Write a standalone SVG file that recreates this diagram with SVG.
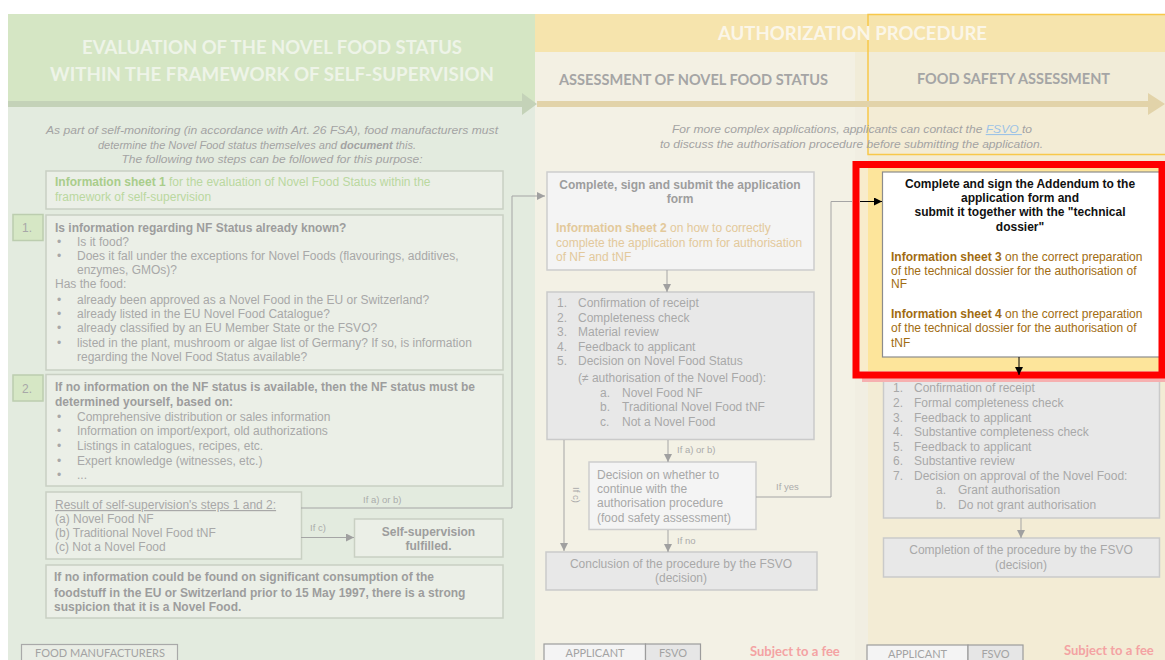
<svg xmlns="http://www.w3.org/2000/svg" width="1165" height="660" viewBox="0 0 1165 660">
<style>
.t{font-family:"Liberation Sans",Arial,sans-serif;font-size:12px;fill:#a8a8a8}
.b{font-weight:bold}
.bd{font-weight:bold;fill:#9d9d9d}
.hd{font-family:Lato,"Open Sans",sans-serif;font-weight:bold}
.it{font-family:"Liberation Sans",Arial,sans-serif;font-style:italic;font-size:11px;fill:#a3a3a3}
.sm{font-family:"Liberation Sans",Arial,sans-serif;font-size:9.5px;fill:#ababab}
.lbox{fill:#ebefe7;stroke:#c9d0c3;stroke-width:1.5}
.nbox{fill:#d6e7c5;stroke:#bccdaf;stroke-width:1.5}
.mbox{fill:#f4f4f4;stroke:#cdcdcd;stroke-width:1.5}
.gbox{fill:#e8e8e8;stroke:#cacaca;stroke-width:1.5}
.ln{stroke:#a5a5a5;stroke-width:1;fill:none}
.g1{fill:#a9cd8b}
.g2{fill:#bad89f}
.o1{fill:#e3c99b}
.br{fill:#a16c12}
.tag{font-family:Lato,"Open Sans",sans-serif;font-size:11px;fill:#a3a3a3}
.fee{font-family:Lato,"Open Sans",sans-serif;font-size:13px;font-weight:bold;fill:#f4a3a3}
</style>
<defs>
<marker id="ag" viewBox="0 0 8 8" refX="8" refY="4" markerWidth="8" markerHeight="8" markerUnits="userSpaceOnUse" orient="auto"><path d="M0,0 L8,4 L0,8 z" fill="#a0a0a0"/></marker>
<marker id="ak" viewBox="0 0 8 8" refX="8" refY="4" markerWidth="8" markerHeight="8" markerUnits="userSpaceOnUse" orient="auto"><path d="M0,0 L8,4 L0,8 z" fill="#000"/></marker>
</defs>

<g id="background">
<rect x="8" y="14" width="527" height="90" fill="#d5e6c4"/>
<rect x="8" y="104" width="527" height="556" fill="#e3ebdf"/>
<rect x="535" y="14" width="630" height="38" fill="#f6e4ad"/>
<rect x="535" y="52" width="320" height="52" fill="#f3f0e3"/>
<rect x="855" y="52" width="310" height="52" fill="#f1ecd8"/>
<rect x="535" y="104" width="320" height="556" fill="#f3f1e5"/>
<rect x="855" y="104" width="13" height="556" fill="#f1eee2"/>
<rect x="868" y="104" width="297" height="556" fill="#f3ecd5"/>
<rect x="868" y="14.5" width="300" height="140" fill="none" stroke="#f8c84a" stroke-width="1.5"/>
<rect x="8" y="101" width="516" height="6" fill="#c4d2b8"/>
<polygon points="522,93 537,104 522,115" fill="#c4d2b8"/>
<rect x="537" y="101" width="613" height="6" fill="#e2d3a9"/>
<polygon points="1148,93 1165,104 1148,115" fill="#e2d3a9"/>
</g>

<g id="headers">
<text class="hd" x="272" y="54" font-size="19" fill="#eef4e8" text-anchor="middle" textLength="380" lengthAdjust="spacingAndGlyphs">EVALUATION OF THE NOVEL FOOD STATUS</text>
<text class="hd" x="272" y="81" font-size="19" fill="#eef4e8" text-anchor="middle" textLength="444" lengthAdjust="spacingAndGlyphs">WITHIN THE FRAMEWORK OF SELF-SUPERVISION</text>
<text class="hd" x="852.5" y="40" font-size="18" fill="#fbf6e8" text-anchor="middle" textLength="269" lengthAdjust="spacingAndGlyphs">AUTHORIZATION PROCEDURE</text>
<text class="hd" x="693.5" y="85" font-size="15" fill="#a5a5a5" text-anchor="middle" textLength="269" lengthAdjust="spacingAndGlyphs">ASSESSMENT OF NOVEL FOOD STATUS</text>
<text class="hd" x="1013.5" y="84" font-size="15" fill="#a5a5a5" text-anchor="middle" textLength="193" lengthAdjust="spacingAndGlyphs">FOOD SAFETY ASSESSMENT</text>
<text class="it" x="272" y="134" text-anchor="middle" textLength="452" lengthAdjust="spacingAndGlyphs">As part of self-monitoring (in accordance with Art. 26 FSA), food manufacturers must</text>
<text class="it" x="257" y="149" text-anchor="middle" textLength="318" lengthAdjust="spacingAndGlyphs">determine the Novel Food status themselves and <tspan font-weight="bold">document</tspan> this.</text>
<text class="it" x="272" y="163" text-anchor="middle" textLength="301" lengthAdjust="spacingAndGlyphs">The following two steps can be followed for this purpose:</text>
<text class="it" x="672" y="133" textLength="360" lengthAdjust="spacingAndGlyphs">For more complex applications, applicants can contact the <tspan fill="#9dc3e6" text-decoration="underline">FSVO </tspan>to</text>
<text class="it" x="660" y="148" textLength="383" lengthAdjust="spacingAndGlyphs">to discuss the authorisation procedure before submitting the application.</text>
</g>

<g id="info-sheet-1">
<rect class="lbox" x="46" y="171" width="457" height="38"/>
<text class="t" x="55" y="186"><tspan class="b g1">Information sheet 1</tspan><tspan class="g2"> for the evaluation of Novel Food Status within the</tspan></text>
<text class="t g2" x="55" y="201">framework of self-supervision</text>
</g>

<g id="step-1">
<rect class="nbox" x="13" y="214.5" width="30" height="26"/>
<text class="t" x="22" y="232" font-size="13">1.</text>
<rect class="lbox" x="46" y="215" width="457" height="155"/>
<text class="t bd" x="55" y="232">Is information regarding NF Status already known?</text>
<g class="t">
<text x="57" y="245.5">•</text><text x="77" y="245.5">Is it food?</text>
<text x="57" y="260">•</text><text x="77" y="260">Does it fall under the exceptions for Novel Foods (flavourings, additives,</text>
<text x="77" y="273.5">enzymes, GMOs)?</text>
<text x="55" y="288">Has the food:</text>
<text x="57" y="303.5">•</text><text x="77" y="303.5">already been approved as a Novel Food in the EU or Switzerland?</text>
<text x="57" y="318">•</text><text x="77" y="318">already listed in the EU Novel Food Catalogue?</text>
<text x="57" y="332">•</text><text x="77" y="332">already classified by an EU Member State or the FSVO?</text>
<text x="57" y="347">•</text><text x="77" y="347">listed in the plant, mushroom or algae list of Germany? If so, is information</text>
<text x="77" y="361">regarding the Novel Food Status available?</text>
</g>
</g>

<g id="step-2">
<rect class="nbox" x="13" y="375" width="30" height="26"/>
<text class="t" x="22" y="393" font-size="13">2.</text>
<rect class="lbox" x="46" y="374.5" width="457" height="111.5"/>
<text class="t bd" x="55" y="390.5">If no information on the NF status is available, then the NF status must be</text>
<text class="t bd" x="55" y="406">determined yourself, based on:</text>
<g class="t">
<text x="57" y="420.5">•</text><text x="77" y="420.5">Comprehensive distribution or sales information</text>
<text x="57" y="435">•</text><text x="77" y="435">Information on import/export, old authorizations</text>
<text x="57" y="449.5">•</text><text x="77" y="449.5">Listings in catalogues, recipes, etc.</text>
<text x="57" y="464.5">•</text><text x="77" y="464.5">Expert knowledge (witnesses, etc.)</text>
<text x="57" y="479">•</text><text x="77" y="479">...</text>
</g>
</g>

<g id="result">
<rect class="lbox" x="46" y="492" width="255.5" height="67"/>
<text class="t" x="55" y="509" text-decoration="underline">Result of self-supervision's steps 1 and 2:</text>
<text class="t" x="55" y="522.5">(a) Novel Food NF</text>
<text class="t" x="55" y="537">(b) Traditional Novel Food tNF</text>
<text class="t" x="55" y="551">(c) Not a Novel Food</text>
</g>

<g id="self-supervision-fulfilled">
<rect class="lbox" x="354.5" y="519" width="148.5" height="38"/>
<text class="t bd" x="428.5" y="535.5" text-anchor="middle">Self-supervision</text>
<text class="t bd" x="428.5" y="550" text-anchor="middle">fulfilled.</text>
</g>

<g id="suspicion-note">
<rect class="lbox" x="46" y="565" width="457" height="53"/>
<text class="t bd" x="54" y="581">If no information could be found on significant consumption of the</text>
<text class="t bd" x="54" y="596.5">foodstuff in the EU or Switzerland prior to 15 May 1997, there is a strong</text>
<text class="t bd" x="54" y="611">suspicion that it is a Novel Food.</text>
</g>

<g id="food-manufacturers">
<rect x="21.5" y="644.5" width="156" height="18" fill="#e9ede5" stroke="#a9a9a9" stroke-width="1.2"/>
<text class="tag" x="100" y="656.5" text-anchor="middle">FOOD MANUFACTURERS</text>
</g>

<g id="application-form">
<rect class="mbox" x="547" y="172" width="267" height="98"/>
<text class="t bd" x="680" y="188.5" text-anchor="middle">Complete, sign and submit the application</text>
<text class="t bd" x="680" y="203" text-anchor="middle">form</text>
<text class="t" x="556" y="232"><tspan class="b o1">Information sheet 2</tspan><tspan class="o1"> on how to correctly</tspan></text>
<text class="t o1" x="556" y="247">complete the application form for authorisation</text>
<text class="t o1" x="556" y="261">of NF and tNF</text>
</g>

<g id="status-steps">
<rect class="gbox" x="547" y="292" width="267" height="147.5"/>
<g class="t">
<text x="557" y="307">1.</text><text x="578" y="307">Confirmation of receipt</text>
<text x="557" y="322">2.</text><text x="578" y="322">Completeness check</text>
<text x="557" y="336">3.</text><text x="578" y="336">Material review</text>
<text x="557" y="351">4.</text><text x="578" y="351">Feedback to applicant</text>
<text x="557" y="365">5.</text><text x="578" y="365">Decision on Novel Food Status</text>
<text x="578" y="382">(≠ authorisation of the Novel Food):</text>
<text x="600" y="397">a.</text><text x="622" y="397">Novel Food NF</text>
<text x="600" y="411">b.</text><text x="622" y="411">Traditional Novel Food tNF</text>
<text x="600" y="426">c.</text><text x="622" y="426">Not a Novel Food</text>
</g>
</g>

<g id="decision-continue">
<rect class="mbox" x="589" y="462" width="167" height="67.5"/>
<g class="t">
<text x="597" y="478.5">Decision on whether to</text>
<text x="597" y="492.5">continue with the</text>
<text x="597" y="507">authorisation procedure</text>
<text x="597" y="522">(food safety assessment)</text>
</g>
</g>

<g id="conclusion">
<rect class="gbox" x="546" y="552" width="271" height="38"/>
<text class="t" x="681" y="568" text-anchor="middle">Conclusion of the procedure by the FSVO</text>
<text class="t" x="681" y="582" text-anchor="middle">(decision)</text>
</g>

<g id="roles-middle">
<rect x="544" y="644" width="101.5" height="18" fill="#f4f4f4" stroke="#9c9c9c" stroke-width="1.2"/>
<rect x="645.5" y="644" width="55" height="18" fill="#e6e6e6" stroke="#9c9c9c" stroke-width="1.2"/>
<text class="tag" x="595" y="657" text-anchor="middle">APPLICANT</text>
<text class="tag" x="673" y="657" text-anchor="middle">FSVO</text>
<text class="fee" x="750" y="656">Subject to a fee</text>
</g>

<g id="safety-steps">
<rect class="gbox" x="883.5" y="376" width="276" height="142"/>
<g class="t">
<text x="893" y="392">1.</text><text x="914" y="392">Confirmation of receipt</text>
<text x="893" y="407">2.</text><text x="914" y="407">Formal completeness check</text>
<text x="893" y="422">3.</text><text x="914" y="422">Feedback to applicant</text>
<text x="893" y="436">4.</text><text x="914" y="436">Substantive completeness check</text>
<text x="893" y="451">5.</text><text x="914" y="451">Feedback to applicant</text>
<text x="893" y="465">6.</text><text x="914" y="465">Substantive review</text>
<text x="893" y="480">7.</text><text x="914" y="480">Decision on approval of the Novel Food:</text>
<text x="936" y="494">a.</text><text x="958" y="494">Grant authorisation</text>
<text x="936" y="509">b.</text><text x="958" y="509">Do not grant authorisation</text>
</g>
</g>

<g id="addendum">
<rect x="860" y="168" width="302" height="203" fill="#fde59b"/>
<rect x="860" y="168" width="8" height="203" fill="#f8eccb"/>
<rect x="882.5" y="172" width="277.5" height="185" fill="#ffffff" stroke="#8c8c8c" stroke-width="1.2"/>
<g font-family="Liberation Sans, Arial, sans-serif" font-size="12" font-weight="bold" fill="#111" text-anchor="middle">
<text x="1020" y="188">Complete and sign the Addendum to the</text>
<text x="1020" y="202">application form and</text>
<text x="1020" y="216">submit it together with the "technical</text>
<text x="1020" y="231">dossier"</text>
</g>
<text class="t" x="891" y="261"><tspan class="b br">Information sheet 3</tspan><tspan class="br"> on the correct preparation</tspan></text>
<text class="t br" x="891" y="275">of the technical dossier for the authorisation of</text>
<text class="t br" x="891" y="288">NF</text>
<text class="t" x="891" y="318"><tspan class="b br">Information sheet 4</tspan><tspan class="br"> on the correct preparation</tspan></text>
<text class="t br" x="891" y="332">of the technical dossier for the authorisation of</text>
<text class="t br" x="891" y="347">tNF</text>
<rect x="862" y="378" width="303" height="4" fill="#f6b0b0"/>
<rect x="856" y="164.5" width="306" height="210.5" fill="none" stroke="#ff0000" stroke-width="7"/>
</g>

<g id="completion">
<rect class="gbox" x="883.5" y="538" width="276" height="39"/>
<text class="t" x="1021" y="554" text-anchor="middle">Completion of the procedure by the FSVO</text>
<text class="t" x="1021" y="569" text-anchor="middle">(decision)</text>
</g>

<g id="roles-right">
<rect x="867" y="645" width="101" height="18" fill="#f4f4f4" stroke="#9c9c9c" stroke-width="1.2"/>
<rect x="968" y="645" width="55" height="18" fill="#e6e6e6" stroke="#9c9c9c" stroke-width="1.2"/>
<text class="tag" x="917.5" y="657.5" text-anchor="middle">APPLICANT</text>
<text class="tag" x="995.5" y="657.5" text-anchor="middle">FSVO</text>
<text class="fee" x="1064" y="655">Subject to a fee</text>
</g>

<g id="connectors">
<polyline class="ln" points="301,508 512,508 512,196 545,196" marker-end="url(#ag)"/>
<text class="sm" x="363" y="503">If a) or b)</text>
<line class="ln" x1="301" y1="537.5" x2="354" y2="537.5" marker-end="url(#ag)"/>
<text class="sm" x="310" y="531">If c)</text>
<line class="ln" x1="667" y1="270" x2="667" y2="292" marker-end="url(#ag)"/>
<line class="ln" x1="668" y1="440" x2="668" y2="462" marker-end="url(#ag)"/>
<text class="sm" x="677" y="453">If a) or b)</text>
<line class="ln" x1="564" y1="440" x2="564" y2="551" marker-end="url(#ag)"/>
<text class="sm" transform="translate(573,495) rotate(90)" text-anchor="middle">If c)</text>
<line class="ln" x1="668" y1="530" x2="668" y2="552" marker-end="url(#ag)"/>
<text class="sm" x="677" y="544">If no</text>
<polyline class="ln" points="756,497 831,497 831,201.5 852,201.5"/>
<text class="sm" x="776" y="490">If yes</text>
<line x1="860" y1="201.5" x2="882" y2="201.5" stroke="#000" stroke-width="1" marker-end="url(#ak)"/>
<line x1="1019" y1="357" x2="1019" y2="375" stroke="#000" stroke-width="1" marker-end="url(#ak)"/>
<line class="ln" x1="1021" y1="518" x2="1021" y2="538" marker-end="url(#ag)"/>
</g>
</svg>
